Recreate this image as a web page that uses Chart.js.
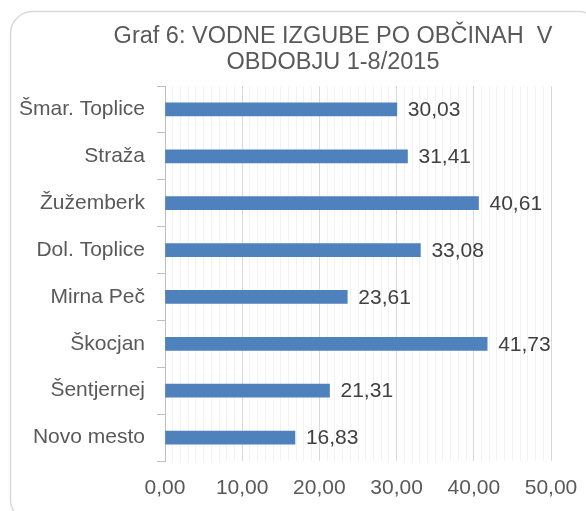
<!DOCTYPE html>
<html>
<head>
<meta charset="utf-8">
<script src="https://cdn.jsdelivr.net/npm/chart.js@4/dist/chart.umd.min.js"></script>
<style>
  html, body { margin: 0; padding: 0; background: #fff; }
  #wrap { width: 586px; height: 511px; }
</style>
</head>
<body>
<div id="wrap"><canvas id="myChart" width="586" height="511"></canvas></div>
<script>
// data
const categories = ['Šmar. Toplice', 'Straža', 'Žužemberk', 'Dol. Toplice', 'Mirna Peč', 'Škocjan', 'Šentjernej', 'Novo mesto'];
const losses = [30.03, 31.41, 40.61, 33.08, 23.61, 41.73, 21.31, 16.83];
const titleLines = ['Graf 6: VODNE IZGUBE PO OBČINAH  V', 'OBDOBJU 1-8/2015'];
const xMin = 0;
const xMax = 50;
const xMajorStep = 10;

const FONT = '"Liberation Sans", Arial, sans-serif';
const fmt = v => v.toFixed(2).replace('.', ',');

// rounded frame round the whole chart (runs off the right and bottom edges)
const framePlugin = {
  id: 'frame',
  beforeDraw(chart) {
    const ctx = chart.ctx;
    ctx.save();
    ctx.strokeStyle = '#d9d9d9';
    ctx.lineWidth = 1.5;
    ctx.beginPath();
    ctx.roundRect(10.5, 11.5, 590, 510, 22);
    ctx.stroke();
    ctx.restore();
  }
};

// two-line title
const titlePlugin = {
  id: 'titleText',
  afterDraw(chart) {
    const ctx = chart.ctx;
    ctx.save();
    ctx.fillStyle = '#595959';
    ctx.font = '23.5px ' + FONT;
    ctx.textAlign = 'center';
    ctx.textBaseline = 'alphabetic';
    ctx.fillText(titleLines[0], 333, 43);
    ctx.fillText(titleLines[1], 333, 69);
    ctx.restore();
  }
};

// value labels to the right of the bars
const valueLabels = {
  id: 'valueLabels',
  afterDatasetsDraw(chart) {
    const ctx = chart.ctx;
    const meta = chart.getDatasetMeta(0);
    ctx.save();
    ctx.fillStyle = '#404040';
    ctx.font = '21px ' + FONT;
    ctx.textAlign = 'left';
    ctx.textBaseline = 'middle';
    meta.data.forEach((bar, i) => {
      ctx.fillText(fmt(chart.data.datasets[0].data[i]), bar.x + 11, bar.y + 1);
    });
    ctx.restore();
  }
};

new Chart(document.getElementById('myChart').getContext('2d'), {
  type: 'bar',
  data: {
    labels: categories,
    datasets: [{
      data: losses,
      backgroundColor: '#4f81bd',
      borderWidth: 0,
      barThickness: 13
    }]
  },
  options: {
    indexAxis: 'y',
    responsive: false,
    animation: false,
    layout: { padding: { top: 86, right: 35, left: 0, bottom: 0 } },
    plugins: {
      legend: { display: false },
      title: { display: false },
      tooltip: { enabled: false }
    },
    scales: {
      x: {
        min: xMin,
        max: xMax,
        afterFit(scale) {
          scale.height = 50;
          scale.paddingLeft = 0;
          scale.paddingRight = 0;
        },
        border: { display: false },
        grid: {
          drawTicks: false,
          color: c => (c.tick && c.tick.value % xMajorStep === 0) ? '#d9d9d9' : '#f2f2f2',
          lineWidth: 1
        },
        ticks: {
          stepSize: 1,
          autoSkip: false,
          maxRotation: 0,
          padding: 15,
          color: '#595959',
          font: { family: FONT, size: 21 },
          callback: v => (v % xMajorStep === 0 ? fmt(v) : '')
        }
      },
      y: {
        afterFit(scale) { scale.width = 165; },
        border: { display: true, color: '#bfbfbf', width: 1 },
        grid: {
          drawOnChartArea: false,
          color: '#bfbfbf',
          tickLength: 8
        },
        ticks: {
          padding: 12,
          color: '#595959',
          font: { family: FONT, size: 21 }
        }
      }
    }
  },
  plugins: [framePlugin, valueLabels, titlePlugin]
});
</script>
</body>
</html>
